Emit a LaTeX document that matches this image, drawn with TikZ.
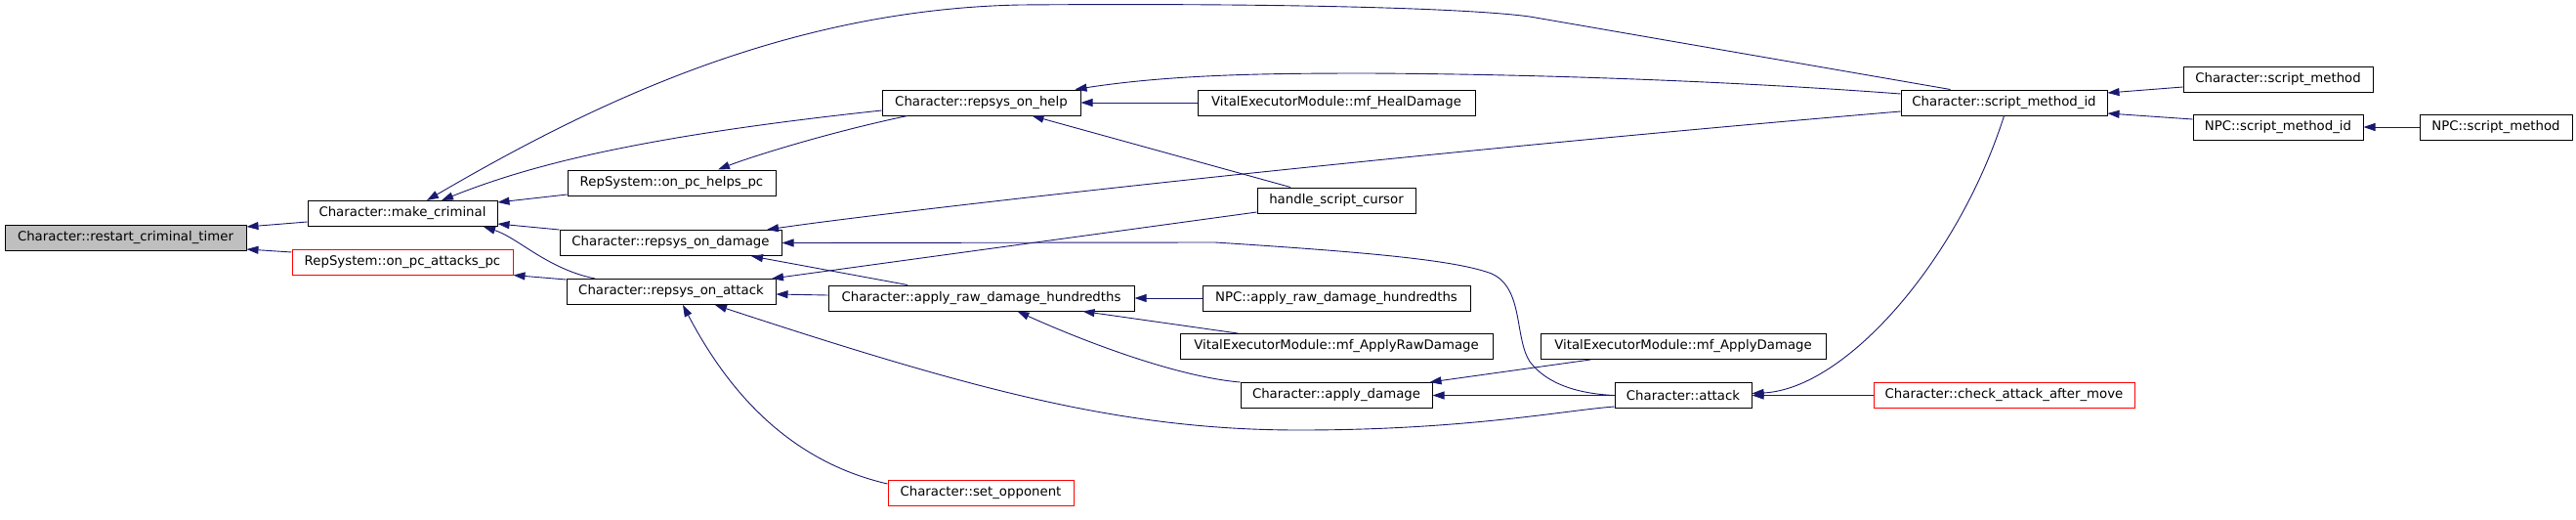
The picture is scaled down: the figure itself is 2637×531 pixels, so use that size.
\documentclass[tikz,border=0pt]{standalone}
\usepackage{fontspec}
\setmainfont{DejaVu Sans}
\usetikzlibrary{arrows.meta}
\definecolor{edgeblue}{HTML}{191970}
\definecolor{rootgray}{HTML}{BFBFBF}
\begin{document}
\begin{tikzpicture}[x=1pt,y=-1pt,
  fnbox/.style={draw=black, line width=1pt, fill=white, minimum height=26pt, inner sep=0pt,
    font=\fontsize{13.3}{16}\selectfont, anchor=center},
  rootbox/.style={fnbox, fill=rootgray},
  extbox/.style={fnbox, draw=red},
  callarrow/.style={draw=edgeblue, line width=0.9pt, {Triangle[length=12pt,width=8pt]}-}
]
\useasboundingbox (0,0) rectangle (2637,531);

% nodes
\node[rootbox, minimum width=247pt] (restart) at (128.5,243) {Character::restart\_criminal\_timer};
\node[fnbox, minimum width=194pt] (make) at (412,218.5) {Character::make\_criminal};
\node[extbox, minimum width=226pt] (attackspc) at (412,268) {RepSystem::on\_pc\_attacks\_pc};
\node[fnbox, minimum width=213pt] (helpspc) at (687.5,187) {RepSystem::on\_pc\_helps\_pc};
\node[fnbox, minimum width=227pt] (ondamage) at (686.5,248.5) {Character::repsys\_on\_damage};
\node[fnbox, minimum width=214pt] (onattack) at (687,298.5) {Character::repsys\_on\_attack};
\node[fnbox, minimum width=203pt] (onhelp) at (1004.5,105) {Character::repsys\_on\_help};
\node[fnbox, minimum width=313pt] (raw) at (1004.5,305) {Character::apply\_raw\_damage\_hundredths};
\node[extbox, minimum width=190pt] (setopp) at (1004,504.5) {Character::set\_opponent};
\node[fnbox, minimum width=284pt] (heal) at (1368,105) {VitalExecutorModule::mf\_HealDamage};
\node[fnbox, minimum width=162pt] (cursor) at (1368,205) {handle\_script\_cursor};
\node[fnbox, minimum width=274pt] (npcraw) at (1368,305) {NPC::apply\_raw\_damage\_hundredths};
\node[fnbox, minimum width=320pt] (mfraw) at (1368,354.5) {VitalExecutorModule::mf\_ApplyRawDamage};
\node[fnbox, minimum width=196pt] (applydmg) at (1368,404.5) {Character::apply\_damage};
\node[fnbox, minimum width=211pt] (smid) at (2051.5,105) {Character::script\_method\_id};
\node[fnbox, minimum width=292pt] (mfdmg) at (1723,354.5) {VitalExecutorModule::mf\_ApplyDamage};
\node[fnbox, minimum width=140pt] (attack) at (1723,404.5) {Character::attack};
\node[extbox, minimum width=267pt] (check) at (2051.5,404.5) {Character::check\_attack\_after\_move};
\node[fnbox, minimum width=194pt] (csm) at (2332,81) {Character::script\_method};
\node[fnbox, minimum width=174pt] (npcsmid) at (2332,130) {NPC::script\_method\_id};
\node[fnbox, minimum width=156pt] (npcsm) at (2555,130) {NPC::script\_method};

% edges (arrow at callee)
\draw[callarrow] ([yshift=11pt]restart.east) -- ([yshift=-8.5pt]make.west);
\draw[callarrow] ([yshift=-12pt]restart.east) -- ([yshift=10pt]attackspc.west);
\draw[callarrow] ([xshift=25pt]make.north) .. controls (600,110) and (800,10) .. (1044,5)
  .. controls (1300,3) and (1500,8) .. (1566,17) -- ([xshift=-55pt]smid.north);
\draw[callarrow] ([xshift=40pt]make.north) .. controls (540,170) and (650,140) .. ([yshift=-8pt]onhelp.west);
\draw[callarrow] ([xshift=47.5pt]helpspc.north) .. controls (770,160) and (850,135) .. ([xshift=-75.5pt]onhelp.south);
\draw[callarrow] ([yshift=11.5pt]make.east) -- ([yshift=-12pt]helpspc.west);
\draw[callarrow] ([yshift=-10.5pt]make.east) -- (ondamage.north west);
\draw[callarrow] ([xshift=83pt]make.south) .. controls (530,243) and (560,275) .. ([xshift=-78pt]onattack.north);
\draw[callarrow] (attackspc.south east) -- ([yshift=12.5pt]onattack.west);
\draw[callarrow] ([xshift=98.5pt]ondamage.north) .. controls (900,218) and (1400,160) .. ([yshift=-9pt]smid.west);
\draw[callarrow] (ondamage.east) -- (1244,248) .. controls (1400,258) and (1490,266) .. (1527,280)
  .. controls (1560,295) and (1550,345) .. (1566,370) .. controls (1585,395) and (1620,403) .. (attack.west);
\draw[callarrow] ([xshift=82.5pt]ondamage.south) -- ([xshift=-75.5pt]raw.north);
\draw[callarrow] ([xshift=103pt]onattack.north) -- ([yshift=-12pt]cursor.west);
\draw[callarrow] ([yshift=-2.5pt]onattack.east) -- ([yshift=3pt]raw.west);
\draw[callarrow] ([xshift=45pt]onattack.south) .. controls (1000,400) and (1150,440) .. (1330,440)
  .. controls (1500,440) and (1600,420) .. ([yshift=-11.5pt]attack.west);
\draw[callarrow] ([xshift=12pt]onattack.south) .. controls (740,390) and (800,470) .. ([yshift=9.5pt]setopp.west);
\draw[callarrow] ([xshift=-6pt]onhelp.north east) .. controls (1200,76) and (1300,75) .. (1400,75)
  .. controls (1600,76) and (1800,85) .. ([yshift=9pt]smid.west);
\draw[callarrow] (onhelp.east) -- (heal.west);
\draw[callarrow] ([xshift=52pt]onhelp.south) -- ([xshift=-47pt]cursor.north);
\draw[callarrow] (raw.east) -- (npcraw.west);
\draw[callarrow] ([xshift=104pt]raw.south) -- ([xshift=-101pt]mfraw.north);
\draw[callarrow] ([xshift=37pt]raw.south) .. controls (1100,345) and (1200,385) .. (applydmg.north west);
\draw[callarrow] ([xshift=-3pt]applydmg.north east) -- ([xshift=-95pt]mfdmg.south);
\draw[callarrow] (applydmg.east) -- (attack.west);
\draw[callarrow] (attack.east) -- (check.west);
\draw[callarrow] ([yshift=2pt]attack.east) .. controls (1890,398) and (2005,265) .. (smid.south);
\draw[callarrow] ([yshift=10pt]smid.east) -- ([yshift=-8pt]csm.west);
\draw[callarrow] ([yshift=-11pt]smid.east) -- ([yshift=8pt]npcsmid.west);
\draw[callarrow] (npcsmid.east) -- (npcsm.west);
\end{tikzpicture}
\end{document}
